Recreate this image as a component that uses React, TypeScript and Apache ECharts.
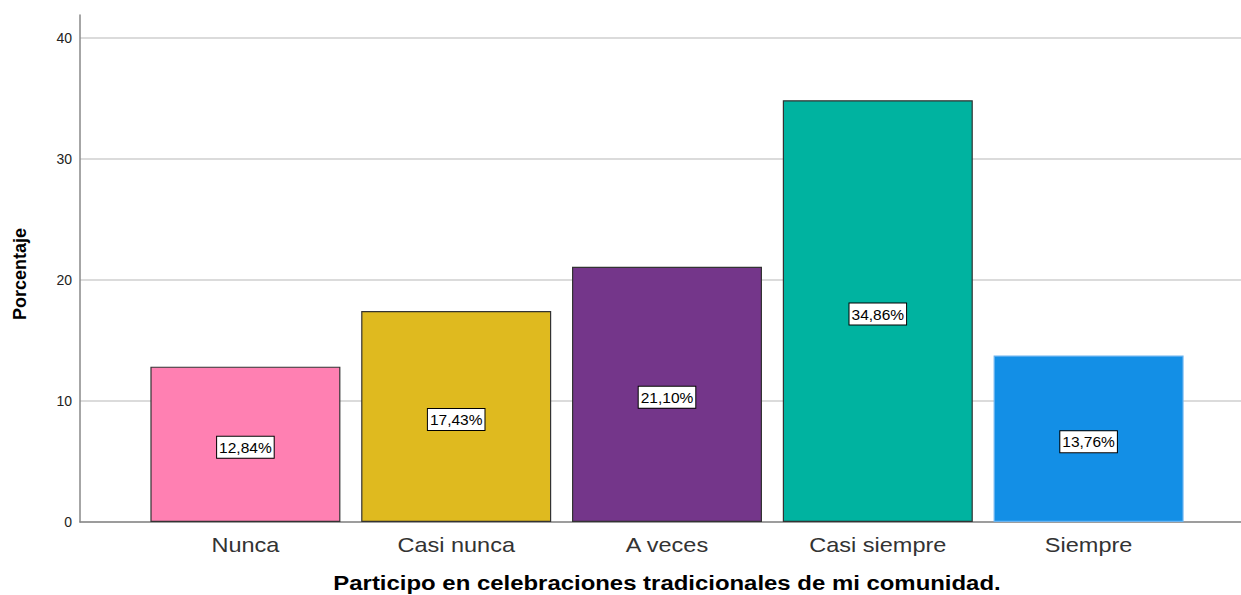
import React, { useEffect, useRef } from "react";
import * as echarts from "echarts";

const categories = ["Nunca", "Casi nunca", "A veces", "Casi siempre", "Siempre"];
const values = [12.84, 17.43, 21.1, 34.86, 13.76];
const colors = ["#FF80B2", "#DFBA1F", "#74368A", "#00B3A0", "#138FE6"];
const borders = ["#333333", "#333333", "#333333", "#333333", "#6BB4F0"];
const yTicks = [0, 10, 20, 30, 40];

const FONT = "'Liberation Sans', Arial, sans-serif";

export default function App() {
  const ref = useRef<HTMLDivElement>(null);
  useEffect(() => {
    const chart = echarts.init(ref.current!, undefined, { renderer: "svg" });
    const yMax = 41.9;
    chart.setOption({
      animation: false,
      backgroundColor: "#ffffff",
      grid: [
        { left: 80, right: 0, top: 15, height: 507 },
        { left: 140, width: 1054, top: 15, height: 507 },
      ],
      xAxis: [
        {
          gridIndex: 0,
          type: "category",
          data: categories,
          axisLine: { show: true, lineStyle: { color: "#888888", width: 1.5 } },
          axisTick: { show: false },
          axisLabel: { show: false },
        },
        {
          gridIndex: 1,
          type: "category",
          data: categories,
          axisLine: { show: false },
          axisTick: { show: false },
          axisLabel: { show: false },
        },
      ],
      yAxis: [
        {
          gridIndex: 0,
          type: "value",
          min: 0,
          max: yMax,
          interval: 10,
          axisLine: { show: true, lineStyle: { color: "#888888", width: 1.5 } },
          axisTick: { show: false },
          axisLabel: {
            color: "#222222",
            fontSize: 14,
            fontFamily: FONT,
            margin: 8,
            showMaxLabel: false,
            formatter: (v: number) => (yTicks.includes(v) ? String(v) : ""),
          },
          splitLine: { show: true, showMaxLine: false, lineStyle: { color: "#CFCFCF", width: 1.5 } },
        },
        {
          gridIndex: 1,
          type: "value",
          min: 0,
          max: yMax,
          show: false,
          splitLine: { show: false },
        },
      ],
      series: [
        {
          type: "bar",
          xAxisIndex: 1,
          yAxisIndex: 1,
          barWidth: 190,
          data: values.map((v, i) => ({
            value: v,
            itemStyle: { color: colors[i], borderColor: borders[i], borderWidth: 1.2 },
          })),
          label: {
            show: true,
            position: "inside",
            offset: [0, 3],
            formatter: (p: any) => p.value.toFixed(2).replace(".", ",") + "%",
            color: "#000000",
            fontSize: 15.5,
            fontFamily: FONT,
            backgroundColor: "#ffffff",
            borderColor: "#000000",
            borderWidth: 1,
            padding: [3, 2, 2, 2],
          },
        },
      ],
    });

    const catTexts = categories.map((c) => {
      const [px] = chart.convertToPixel({ xAxisIndex: 1, yAxisIndex: 1 } as any, [c, 0]) as number[];
      return {
        type: "text",
        x: px,
        y: 545,
        scaleX: 1.12,
        style: {
          text: c,
          fill: "#333333",
          font: `21px ${FONT}`,
          align: "center",
          verticalAlign: "middle",
        },
      };
    });

    chart.setOption({
      graphic: [
        ...catTexts,
        {
          type: "text",
          x: 667,
          y: 583,
          scaleX: 1.14,
          style: {
            text: "Participo en celebraciones tradicionales de mi comunidad.",
            fill: "#000000",
            font: `bold 21px ${FONT}`,
            align: "center",
            verticalAlign: "middle",
          },
        },
        {
          type: "text",
          x: 20,
          y: 274,
          rotation: Math.PI / 2,
          style: {
            text: "Porcentaje",
            fill: "#000000",
            font: `bold 18px ${FONT}`,
            align: "center",
            verticalAlign: "middle",
          },
        },
      ],
    });
    return () => chart.dispose();
  }, []);
  return <div ref={ref} style={{ width: 1241, height: 595, position: "absolute", left: 0, top: 0 }} />;
}
